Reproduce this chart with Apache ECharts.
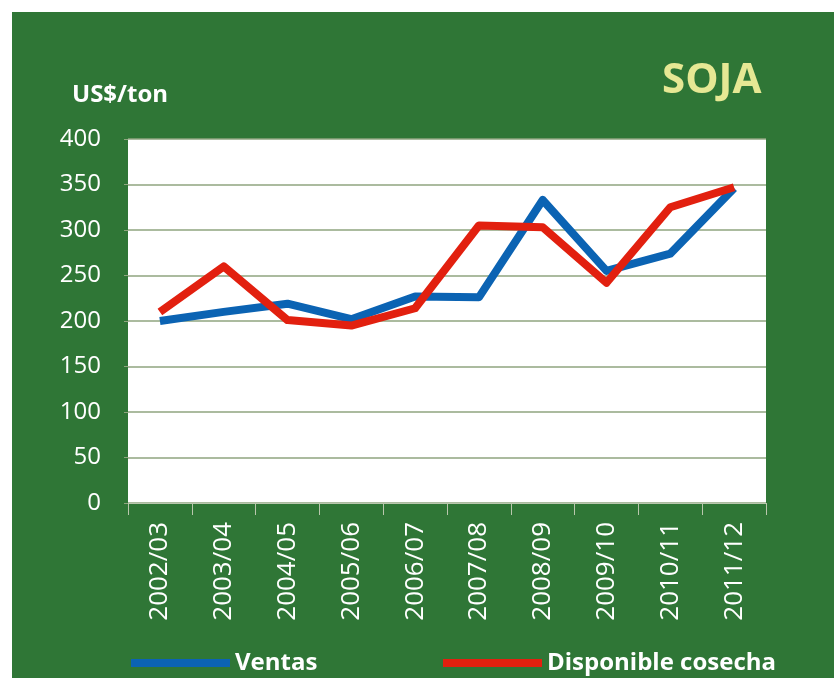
<!DOCTYPE html>
<html style="height: 100%">
<head>
<meta charset="utf-8">
<script src="https://cdn.jsdelivr.net/npm/echarts@6/dist/echarts.min.js"></script>
</head>
<body style="height: 100%; margin: 0; background: #fff">
<div id="container" style="width: 834px; height: 678px"></div>
<script type="text/javascript">
var campanias = ['2002/03', '2003/04', '2004/05', '2005/06', '2006/07', '2007/08', '2008/09', '2009/10', '2010/11', '2011/12'];
var ventas = [200, 210, 219, 202, 227, 226, 333, 255, 274, 346];
var disponible = [210, 260, 201, 195, 214, 305, 303, 242, 325, 347];
var yTicks = [0, 50, 100, 150, 200, 250, 300, 350, 400];

var verde = '#2f7636';
var fuente = '"Open Sans", "Noto Sans", sans-serif';

var myChart = echarts.init(document.getElementById('container'));
var option = {
	backgroundColor: '#fff',
	animation: false,
	graphic: [{
		type: 'rect',
		z: -10,
		shape: { x: 12, y: 12, width: 822, height: 666 },
		style: { fill: verde }
	}, {
		type: 'text',
		left: 72, top: 83,
		style: { text: 'US$/ton', fill: '#fff', font: 'bold 24px ' + fuente }
	}, {
		type: 'text',
		left: 662, top: 60,
		style: { text: 'SOJA', fill: '#e6e894', font: 'bold 42px ' + fuente }
	}],
	legend: [{
		left: 126, top: 646,
		icon: 'rect', itemWidth: 99, itemHeight: 8,
		data: ['Ventas'],
		textStyle: { color: '#fff', fontWeight: 'bold', fontSize: 24, fontFamily: fuente }
	}, {
		left: 438, top: 646,
		icon: 'rect', itemWidth: 99, itemHeight: 8,
		data: ['Disponible cosecha'],
		textStyle: { color: '#fff', fontWeight: 'bold', fontSize: 24, fontFamily: fuente }
	}],
	grid: {
		left: 128, right: 68, top: 139, bottom: 175,
		show: true, backgroundColor: '#fff', borderWidth: 0
	},
	xAxis: {
		type: 'category',
		data: campanias,
		boundaryGap: true,
		axisLine: { show: true, lineStyle: { color: '#b9c7ad', width: 1 } },
		axisTick: { show: true, length: 12, lineStyle: { color: '#b9c7ad' } },
		axisLabel: { rotate: 90, color: '#fff', fontSize: 26, margin: 19, fontFamily: fuente }
	},
	yAxis: {
		type: 'value',
		min: yTicks[0], max: yTicks[yTicks.length - 1], interval: 50,
		axisLine: { show: false },
		axisTick: { show: true, length: 4, lineStyle: { color: '#8fa57f' } },
		splitLine: { lineStyle: { color: '#8fa57f', width: 1.5 } },
		axisLabel: { color: '#fff', fontSize: 24, margin: 27, fontFamily: fuente }
	},
	series: [{
		name: 'Ventas',
		type: 'line',
		data: ventas,
		symbol: 'none',
		color: '#0b63b3',
		lineStyle: { width: 8, color: '#0b63b3', join: 'round' }
	}, {
		name: 'Disponible cosecha',
		type: 'line',
		data: disponible,
		symbol: 'none',
		color: '#e2200f',
		lineStyle: { width: 8, color: '#e2200f', join: 'round' }
	}]
};
myChart.setOption(option);
</script>
</body>
</html>
